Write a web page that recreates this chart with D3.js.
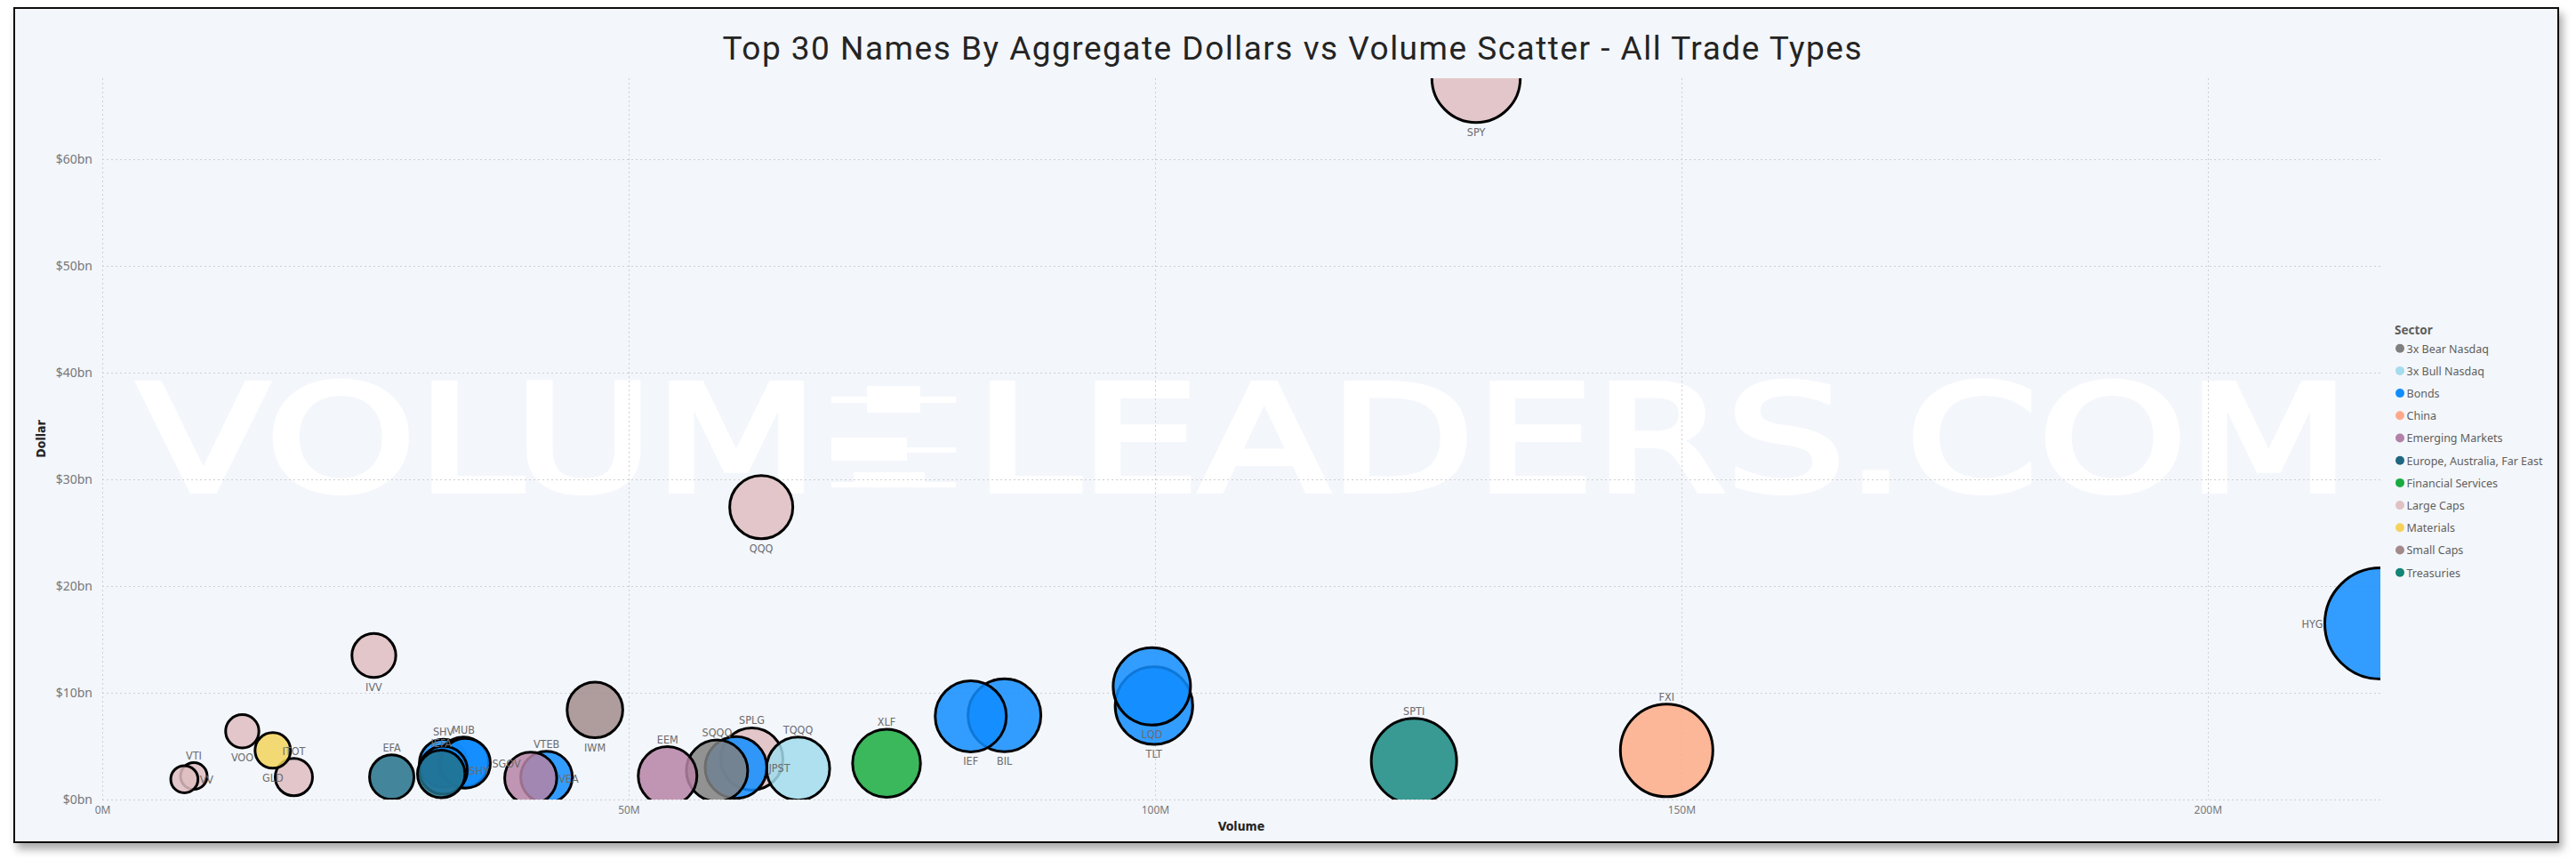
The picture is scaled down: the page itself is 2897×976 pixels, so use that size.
<!DOCTYPE html>
<html>
<head>
<meta charset="utf-8">
<script src="https://cdn.jsdelivr.net/npm/d3@7"></script>
<style>
  html, body { margin: 0; padding: 0; background: #ffffff; }
  svg { display: block; }
</style>
</head>
<body>
<svg id="chart" width="2897" height="976"></svg>
<script>
// ---------------- DATA ----------------
const tickers = ["SPY","HYG","QQQ","FXI","SPTI","TLT","LQD","BIL","IEF","XLF",
                 "SPLG","TQQQ","JPST","SQQQ","EEM","VTEB","VEA","IWM","IVV","EFA",
                 "SHV","MUB","SGOV","SHY","IEFA","VOO","ITOT","GLD","VTI","VV"];
const sectors = ["Large Caps","Bonds","Large Caps","China","Treasuries","Bonds","Bonds","Bonds","Bonds","Financial Services",
                 "Large Caps","3x Bull Nasdaq","Bonds","3x Bear Nasdaq","Emerging Markets","Bonds","Emerging Markets","Small Caps","Large Caps","Europe, Australia, Far East",
                 "Bonds","Bonds","Bonds","Bonds","Europe, Australia, Far East","Large Caps","Large Caps","Materials","Large Caps","Large Caps"];
// Volume in millions of shares
const volumeM = [130.5,216.4,62.6,148.6,124.6,99.9,99.7,85.7,82.5,74.5,
                 61.7,66.1,60.2,58.4,53.7,42.2,40.7,46.8,25.8,27.5,
                 32.4,34.3,34.5,32.4,32.2,13.3,18.2,16.2,8.7,7.8];
// Aggregate dollars in billions
const dollarBn = [67.6,16.5,27.4,4.6,3.6,8.8,10.6,7.9,7.8,3.4,
                  3.8,2.9,3.0,2.7,2.2,2.1,2.0,8.4,13.5,2.1,
                  3.4,3.5,3.4,2.75,2.4,6.4,2.1,4.6,2.2,1.9];
// Bubble size measure
const bubbleSize = [2470,3906,1260,2704,2304,1901,1892,1681,1600,1459,
                    1225,1260,1204,1190,1089,841,858,980,610,625,
                    729,801,784,729,713,350,441,400,225,234];
const sectorNames = ["3x Bear Nasdaq","3x Bull Nasdaq","Bonds","China","Emerging Markets",
                     "Europe, Australia, Far East","Financial Services","Large Caps","Materials","Small Caps","Treasuries"];
const yTicks = [0,10,20,30,40,50,60];
const xTicks = [0,50,100,150,200];
const yMax = 67.6, xMax = 216.4, sizeMax = 4000;

// ---------------- STYLES ----------------
const sectorColors = ["#808080","#A1DCEC","#118DFF","#FBAB86","#B684A6",
                      "#23718A","#1AAB40","#DEBDBF","#F2D35A","#A28C8B","#178A81"];
const legendDotColors = ["#7F7F7F","#A6DCEE","#118DFF","#FFA98A","#B380A8",
                         "#1F6680","#1AAB40","#E0C2C4","#F5D25C","#A38A8A","#138476"];
const labelSide = {SPY:"bottom",HYG:"left",QQQ:"bottom",FXI:"top",SPTI:"top",TLT:"bottom",LQD:"bottom",
  BIL:"bottom",IEF:"bottom",XLF:"top",SPLG:"top",TQQQ:"top",JPST:"right",SQQQ:"top",EEM:"top",
  VTEB:"top",VEA:"right",IWM:"bottom",IVV:"bottom",EFA:"top",SHV:"top",MUB:"top",SGOV:"right",
  SHY:"right",IEFA:"top",VOO:"bottom",ITOT:"top",GLD:"bottom",VTI:"top",VV:"right"};

const W = 2897, H = 976;
const plot = {left: 115, right: 2677, top: 88, bottom: 899};
const uiFont = "'Segoe UI', 'Noto Sans', 'DejaVu Sans', sans-serif";
const dinFont = "'DIN', 'Liberation Sans Narrow', 'DejaVu Sans Condensed', 'Roboto', sans-serif";

const data = tickers.map((t, i) => ({
  ticker: t, sector: sectors[i], vol: volumeM[i], dollar: dollarBn[i], size: bubbleSize[i]
}));

const svg = d3.select("#chart");
const defs = svg.append("defs");
const flt = defs.append("filter").attr("id", "shadow")
  .attr("x", "-2%").attr("y", "-3%").attr("width", "104%").attr("height", "108%");
flt.append("feDropShadow").attr("dx", 4).attr("dy", 7).attr("stdDeviation", 5)
  .attr("flood-color", "#000").attr("flood-opacity", 0.33);
defs.append("clipPath").attr("id", "plotClip").append("rect")
  .attr("x", plot.left).attr("y", plot.top)
  .attr("width", plot.right - plot.left).attr("height", plot.bottom - plot.top);

svg.append("rect").attr("width", W).attr("height", H).attr("fill", "#ffffff");
svg.append("rect").attr("x", 16).attr("y", 9).attr("width", 2861).attr("height", 938)
  .attr("fill", "#F3F6FB").attr("stroke", "#111").attr("stroke-width", 2)
  .attr("filter", "url(#shadow)");

// ---------------- WATERMARK ----------------
const wm = svg.append("g").attr("fill", "#ffffff").attr("stroke", "#ffffff")
  .attr("stroke-width", 6).attr("stroke-linejoin", "miter");
wm.append("text").attr("x", 155).attr("y", 552)
  .attr("font-family", "'DejaVu Sans', sans-serif").attr("font-weight", "normal")
  .attr("font-size", 166).attr("textLength", 766).attr("lengthAdjust", "spacingAndGlyphs")
  .text("VOLUM");
wm.append("text").attr("x", 1096).attr("y", 552)
  .attr("font-family", "'DejaVu Sans', sans-serif").attr("font-weight", "normal")
  .attr("font-size", 166).attr("textLength", 1547).attr("lengthAdjust", "spacingAndGlyphs")
  .text("LEADERS.COM");
// logo: candlestick "E"
const logo = svg.append("g").attr("fill", "#ffffff");
[[935,446,140,7],[975,434,60,30],[935,503,140,6],[935,492,85,26],[935,542,140,6],[960,531,80,12]]
  .forEach(r => logo.append("rect").attr("x", r[0]).attr("y", r[1]).attr("width", r[2]).attr("height", r[3]));

// ---------------- SCALES ----------------
const x = d3.scaleLinear().domain([0, xMax]).range([plot.left, plot.right]);
const y = d3.scaleLinear().domain([0, yMax]).range([plot.bottom, plot.top]);
const r = d3.scaleSqrt().domain([0, sizeMax]).range([0, 63.25]);
const color = d3.scaleOrdinal().domain(sectorNames).range(sectorColors);

// ---------------- GRID ----------------
const grid = svg.append("g").attr("stroke", "#CFCFCF").attr("stroke-width", 1)
  .attr("stroke-dasharray", "2,3");
grid.selectAll("line.h").data(yTicks).join("line").attr("class", "h")
  .attr("x1", plot.left).attr("x2", plot.right)
  .attr("y1", d => Math.round(y(d)) + 0.5).attr("y2", d => Math.round(y(d)) + 0.5);
grid.selectAll("line.v").data(xTicks).join("line").attr("class", "v")
  .attr("y1", plot.top).attr("y2", plot.bottom)
  .attr("x1", d => Math.round(x(d)) + 0.5).attr("x2", d => Math.round(x(d)) + 0.5);

// ---------------- AXES ----------------
const yAxis = svg.append("g").attr("transform", `translate(${plot.left},0)`)
  .call(d3.axisLeft(y).tickValues(yTicks).tickFormat(d => `$${d}bn`).tickSize(0).tickPadding(11));
yAxis.select(".domain").remove();
yAxis.selectAll("text").attr("font-family", uiFont).attr("font-size", 14).attr("fill", "#777");

const xAxis = svg.append("g").attr("transform", `translate(0,${plot.bottom})`)
  .call(d3.axisBottom(x).tickValues(xTicks).tickFormat(d => `${d}M`).tickSize(0).tickPadding(7));
xAxis.select(".domain").remove();
xAxis.selectAll("text").attr("font-family", uiFont).attr("font-size", 12).attr("fill", "#777");

svg.append("text").attr("transform", `translate(51,${(plot.top + plot.bottom) / 2}) rotate(-90)`)
  .attr("text-anchor", "middle").attr("font-family", dinFont).attr("font-weight", "bold")
  .attr("font-size", 14).attr("fill", "#252423").text("Dollar");
svg.append("text").attr("x", (plot.left + plot.right) / 2).attr("y", 934)
  .attr("text-anchor", "middle").attr("font-family", dinFont).attr("font-weight", "bold")
  .attr("font-size", 14).attr("fill", "#252423").text("Volume");

// ---------------- BUBBLES ----------------
const marks = svg.append("g").attr("clip-path", "url(#plotClip)");
marks.selectAll("circle").data(data).join("circle")
  .attr("cx", d => x(d.vol)).attr("cy", d => y(d.dollar)).attr("r", d => r(d.size))
  .attr("fill", d => color(d.sector)).attr("fill-opacity", 0.85)
  .attr("stroke", "#000").attr("stroke-width", 3);

const labels = svg.append("g").attr("clip-path", "url(#plotClip)")
  .attr("font-family", dinFont).attr("font-size", 12.5).attr("fill", "#6B6B6B");
labels.selectAll("text").data(data).join("text")
  .attr("x", d => {
    const s = labelSide[d.ticker], cx = x(d.vol), rr = r(d.size);
    return s === "right" ? cx + rr + 2 : s === "left" ? cx - rr - 2 : cx;
  })
  .attr("y", d => {
    const s = labelSide[d.ticker], cy = y(d.dollar), rr = r(d.size);
    return s === "top" ? cy - rr - 4 : s === "bottom" ? cy + rr + 15 : cy + 4.5;
  })
  .attr("text-anchor", d => {
    const s = labelSide[d.ticker];
    return s === "right" ? "start" : s === "left" ? "end" : "middle";
  })
  .text(d => d.ticker);

// ---------------- TITLE ----------------
svg.append("text").attr("x", 1453).attr("y", 67).attr("text-anchor", "middle")
  .attr("font-family", "'DIN', 'Roboto', 'DejaVu Sans', sans-serif").attr("font-size", 37)
  .attr("fill", "#252423").attr("textLength", 1281).attr("lengthAdjust", "spacing")
  .text("Top 30 Names By Aggregate Dollars vs Volume Scatter - All Trade Types");

// ---------------- LEGEND ----------------
const legend = svg.append("g").attr("transform", "translate(2693,0)");
legend.append("text").attr("x", 0).attr("y", 376).attr("font-family", uiFont)
  .attr("font-weight", "bold").attr("font-size", 13.5).attr("fill", "#605E5C").text("Sector");
const items = legend.selectAll("g.item").data(sectorNames).join("g").attr("class", "item")
  .attr("transform", (d, i) => `translate(0,${391.7 + i * 25.2})`);
items.append("circle").attr("cx", 6).attr("cy", 0).attr("r", 5)
  .attr("fill", (d, i) => legendDotColors[i]);
items.append("text").attr("x", 13.5).attr("y", 4.8).attr("font-family", uiFont)
  .attr("font-size", 12.5).attr("fill", "#605E5C").text(d => d);
</script>
</body>
</html>
